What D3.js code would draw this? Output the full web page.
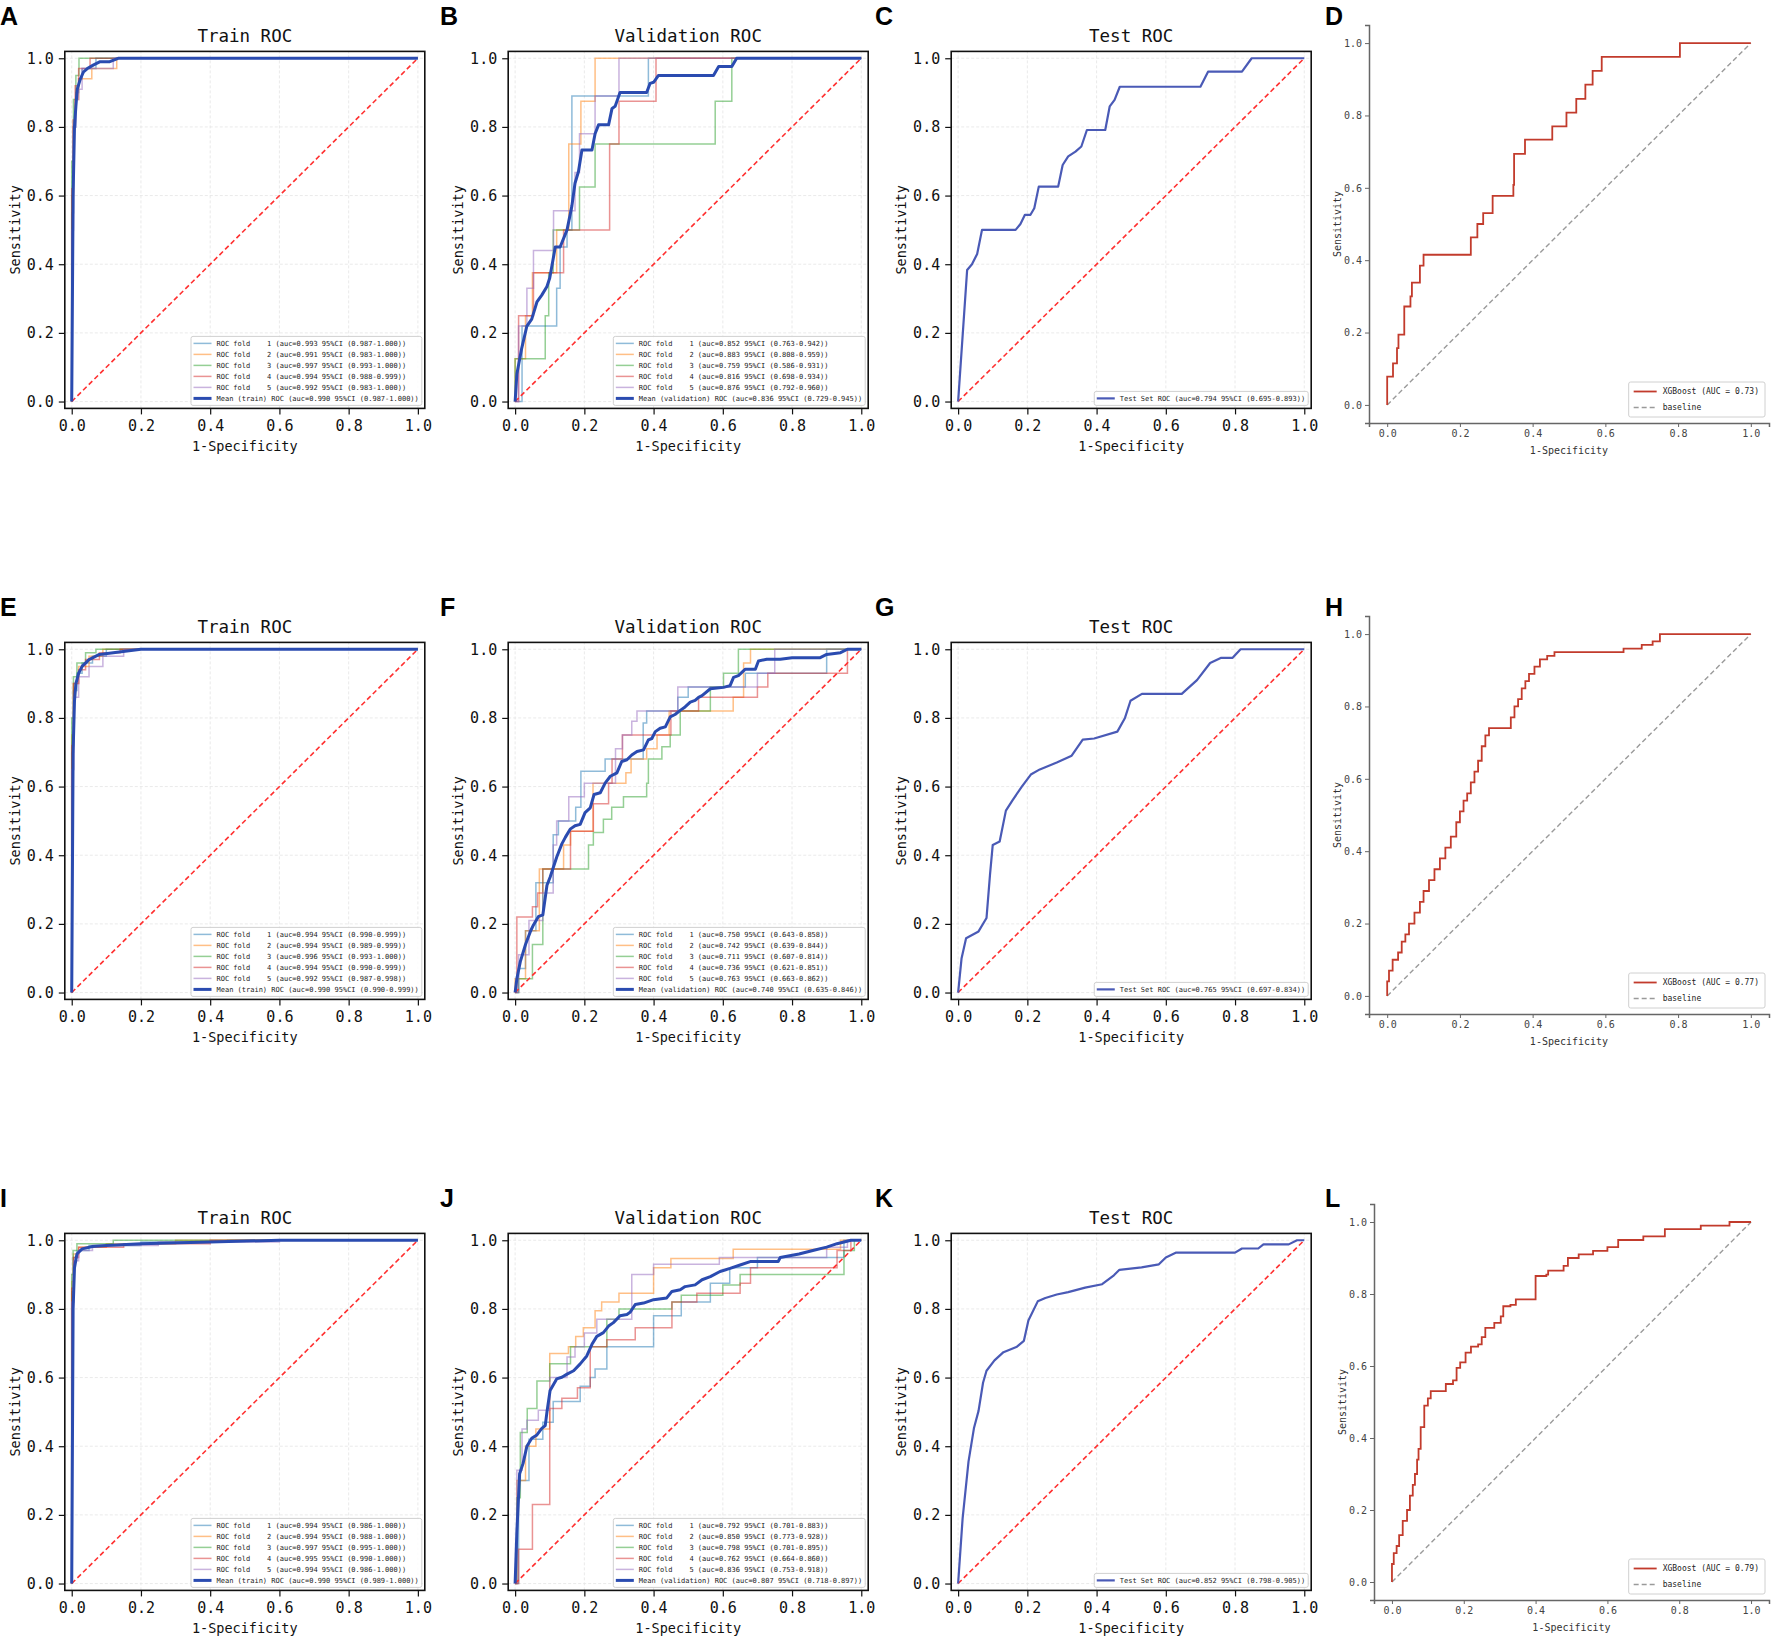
<!DOCTYPE html>
<html>
<head>
<meta charset="utf-8">
<script src="https://cdn.jsdelivr.net/npm/d3@7"></script>
<style>
  body { margin: 0; background: #fff; }
  text { font-family: "DejaVu Sans Mono", monospace; }
  .letter { font-family: "Liberation Sans", Arial, sans-serif; font-weight: bold; font-size: 25px; }
</style>
</head>
<body>
<div id="chart"></div>
<script>
const svgWidth = 1772, svgHeight = 1641;
const ticks = [0, 0.2, 0.4, 0.6, 0.8, 1.0];
const foldColors = ['#1f77b4', '#ff7f0e', '#2ca02c', '#d62728', '#9467bd'];
const rowOffsets = [0, 591, 1182];
const framedLefts = [64.8, 508.2, 951.2];

// ---------- row 1 ----------
const aFolds = [
  [[0,0],[0,0.55],[0.005,0.55],[0.005,0.8],[0.012,0.8],[0.012,0.9],[0.02,0.9],[0.02,0.94],[0.03,0.94],[0.03,0.97],[0.07,0.97],[0.07,1],[1,1]],
  [[0,0],[0,0.6],[0.005,0.6],[0.005,0.8],[0.01,0.8],[0.01,0.88],[0.02,0.88],[0.02,0.94],[0.058,0.94],[0.058,0.97],[0.13,0.97],[0.13,1],[1,1]],
  [[0,0],[0,0.7],[0.005,0.7],[0.005,0.88],[0.012,0.88],[0.012,0.95],[0.021,0.95],[0.021,1],[1,1]],
  [[0,0],[0,0.62],[0.004,0.62],[0.004,0.82],[0.01,0.82],[0.01,0.92],[0.02,0.92],[0.02,0.97],[0.053,0.97],[0.053,1],[1,1]],
  [[0,0],[0,0.5],[0.005,0.5],[0.005,0.8],[0.012,0.8],[0.012,0.88],[0.02,0.88],[0.02,0.91],[0.03,0.91],[0.03,0.97],[0.12,0.97],[0.12,1],[1,1]]
];
const aMean = [[0,0],[0.004,0.6],[0.008,0.8],[0.012,0.86],[0.016,0.91],[0.025,0.94],[0.034,0.96],[0.045,0.97],[0.062,0.98],[0.082,0.99],[0.11,0.99],[0.134,1],[1,1]];
const aLabels = [
  'ROC fold    1 (auc=0.993 95%CI (0.987-1.000))',
  'ROC fold    2 (auc=0.991 95%CI (0.983-1.000))',
  'ROC fold    3 (auc=0.997 95%CI (0.993-1.000))',
  'ROC fold    4 (auc=0.994 95%CI (0.988-0.999))',
  'ROC fold    5 (auc=0.992 95%CI (0.983-1.000))',
  'Mean (train) ROC (auc=0.990 95%CI (0.987-1.000))'
];

const bFolds = [
  [[0,0],[0.02,0],[0.02,0.22],[0.12,0.22],[0.12,0.33],[0.13,0.33],[0.13,0.45],[0.15,0.45],[0.15,0.5],[0.164,0.5],[0.164,0.89],[0.385,0.89],[0.385,1],[1,1]],
  [[0,0],[0,0.125],[0.03,0.125],[0.03,0.25],[0.05,0.25],[0.05,0.375],[0.12,0.375],[0.12,0.5],[0.155,0.5],[0.155,0.75],[0.19,0.75],[0.19,0.875],[0.231,0.875],[0.231,1],[1,1]],
  [[0,0],[0,0.125],[0.087,0.125],[0.087,0.25],[0.097,0.25],[0.097,0.375],[0.11,0.375],[0.11,0.5],[0.186,0.5],[0.186,0.625],[0.231,0.625],[0.231,0.75],[0.578,0.75],[0.578,0.875],[0.626,0.875],[0.626,1],[1,1]],
  [[0,0],[0.01,0],[0.01,0.25],[0.053,0.25],[0.053,0.375],[0.14,0.375],[0.14,0.5],[0.273,0.5],[0.273,0.75],[0.3,0.75],[0.3,0.875],[0.407,0.875],[0.407,1],[1,1]],
  [[0,0],[0.01,0],[0.01,0.22],[0.034,0.22],[0.034,0.33],[0.053,0.33],[0.053,0.44],[0.111,0.44],[0.111,0.556],[0.173,0.556],[0.173,0.667],[0.186,0.667],[0.186,0.78],[0.231,0.78],[0.231,0.89],[0.3,0.89],[0.3,1],[1,1]]
];
const bMean = [[0,0],[0.005,0.08],[0.019,0.155],[0.034,0.22],[0.048,0.24],[0.063,0.29],[0.077,0.31],[0.092,0.335],[0.10,0.36],[0.116,0.45],[0.13,0.45],[0.15,0.5],[0.164,0.57],[0.173,0.636],[0.183,0.67],[0.193,0.733],[0.222,0.733],[0.231,0.78],[0.241,0.806],[0.27,0.806],[0.28,0.854],[0.289,0.86],[0.303,0.9],[0.38,0.9],[0.39,0.927],[0.4,0.93],[0.414,0.95],[0.573,0.95],[0.588,0.976],[0.626,0.976],[0.64,1],[1,1]];
const bLabels = [
  'ROC fold    1 (auc=0.852 95%CI (0.763-0.942))',
  'ROC fold    2 (auc=0.883 95%CI (0.808-0.959))',
  'ROC fold    3 (auc=0.759 95%CI (0.586-0.931))',
  'ROC fold    4 (auc=0.816 95%CI (0.698-0.934))',
  'ROC fold    5 (auc=0.876 95%CI (0.792-0.960))',
  'Mean (validation) ROC (auc=0.836 95%CI (0.729-0.945))'
];

const cTest = [[0,0],[0.026,0.383],[0.04,0.40],[0.055,0.43],[0.069,0.50],[0.166,0.50],[0.18,0.517],[0.193,0.544],[0.209,0.544],[0.22,0.563],[0.233,0.626],[0.289,0.626],[0.302,0.689],[0.318,0.714],[0.339,0.728],[0.356,0.743],[0.372,0.791],[0.425,0.791],[0.438,0.86],[0.452,0.879],[0.467,0.917],[0.70,0.917],[0.722,0.961],[0.82,0.961],[0.848,1],[1,1]];
const cLabel = 'Test Set ROC (auc=0.794 95%CI (0.695-0.893))';

const dRoc = [[0,0],[0,0.078],[0.016,0.115],[0.027,0.157],[0.031,0.194],[0.047,0.272],[0.064,0.30],[0.068,0.338],[0.09,0.385],[0.10,0.415],[0.23,0.463],[0.248,0.50],[0.264,0.53],[0.29,0.578],[0.347,0.608],[0.349,0.694],[0.379,0.733],[0.454,0.77],[0.493,0.808],[0.52,0.846],[0.545,0.885],[0.565,0.923],[0.59,0.962],[0.805,1],[1,1]];
const dLabel = 'XGBoost (AUC = 0.73)';

// ---------- row 2 ----------
const eFolds = [
  [[0,0],[0,0.7],[0.005,0.7],[0.005,0.88],[0.015,0.88],[0.015,0.93],[0.03,0.93],[0.03,0.96],[0.06,0.96],[0.06,0.98],[0.1,0.98],[0.1,1],[1,1]],
  [[0,0],[0,0.75],[0.005,0.75],[0.005,0.9],[0.02,0.9],[0.02,0.95],[0.05,0.95],[0.05,0.98],[0.09,0.98],[0.09,1],[1,1]],
  [[0,0],[0,0.8],[0.005,0.8],[0.005,0.92],[0.015,0.92],[0.015,0.96],[0.04,0.96],[0.04,0.99],[0.07,0.99],[0.07,1],[1,1]],
  [[0,0],[0,0.72],[0.005,0.72],[0.005,0.9],[0.02,0.9],[0.02,0.94],[0.04,0.94],[0.04,0.97],[0.08,0.97],[0.08,0.99],[0.14,0.99],[0.14,1],[1,1]],
  [[0,0],[0,0.65],[0.006,0.65],[0.006,0.86],[0.02,0.86],[0.02,0.92],[0.05,0.92],[0.05,0.95],[0.09,0.95],[0.09,0.98],[0.15,0.98],[0.15,1],[1,1]]
];
const eMean = [[0,0],[0.004,0.7],[0.008,0.85],[0.012,0.9],[0.02,0.93],[0.03,0.95],[0.05,0.97],[0.08,0.985],[0.12,0.99],[0.2,1],[1,1]];
const eLabels = [
  'ROC fold    1 (auc=0.994 95%CI (0.990-0.999))',
  'ROC fold    2 (auc=0.994 95%CI (0.989-0.999))',
  'ROC fold    3 (auc=0.996 95%CI (0.993-1.000))',
  'ROC fold    4 (auc=0.994 95%CI (0.990-0.999))',
  'ROC fold    5 (auc=0.992 95%CI (0.987-0.998))',
  'Mean (train) ROC (auc=0.990 95%CI (0.990-0.999))'
];

const fFolds = [
  [[0,0],[0.01,0],[0.01,0.07],[0.03,0.07],[0.03,0.18],[0.06,0.18],[0.06,0.32],[0.11,0.32],[0.11,0.46],[0.125,0.46],[0.125,0.5],[0.175,0.5],[0.175,0.54],[0.19,0.54],[0.19,0.645],[0.26,0.645],[0.26,0.68],[0.37,0.68],[0.37,0.785],[0.38,0.785],[0.38,0.82],[0.47,0.82],[0.47,0.86],[0.5,0.86],[0.5,0.89],[0.665,0.89],[0.665,0.93],[0.9,0.93],[0.9,1],[1,1]],
  [[0,0],[0,0.04],[0.03,0.04],[0.03,0.18],[0.07,0.18],[0.07,0.36],[0.14,0.36],[0.14,0.43],[0.16,0.43],[0.16,0.47],[0.225,0.47],[0.225,0.61],[0.32,0.61],[0.32,0.64],[0.335,0.64],[0.335,0.68],[0.38,0.68],[0.38,0.71],[0.41,0.71],[0.41,0.75],[0.445,0.75],[0.445,0.82],[0.63,0.82],[0.63,0.86],[0.66,0.86],[0.66,0.96],[0.68,0.96],[0.68,1],[1,1]],
  [[0,0],[0.01,0],[0.01,0.04],[0.05,0.04],[0.05,0.14],[0.08,0.14],[0.08,0.36],[0.212,0.36],[0.212,0.43],[0.226,0.43],[0.226,0.466],[0.255,0.466],[0.255,0.505],[0.279,0.505],[0.279,0.54],[0.313,0.54],[0.313,0.57],[0.38,0.57],[0.38,0.61],[0.385,0.61],[0.385,0.68],[0.424,0.68],[0.424,0.716],[0.448,0.716],[0.448,0.75],[0.477,0.75],[0.477,0.82],[0.564,0.82],[0.564,0.89],[0.602,0.89],[0.602,0.93],[0.645,0.93],[0.645,1],[1,1]],
  [[0,0],[0.005,0],[0.005,0.22],[0.05,0.22],[0.05,0.25],[0.065,0.25],[0.065,0.29],[0.08,0.29],[0.08,0.36],[0.16,0.36],[0.16,0.47],[0.226,0.47],[0.226,0.55],[0.27,0.55],[0.27,0.61],[0.28,0.61],[0.28,0.68],[0.31,0.68],[0.31,0.75],[0.45,0.75],[0.45,0.82],[0.53,0.82],[0.53,0.86],[0.7,0.86],[0.7,0.89],[0.73,0.89],[0.73,0.93],[0.96,0.93],[0.96,1],[1,1]],
  [[0,0],[0.01,0],[0.01,0.11],[0.04,0.11],[0.04,0.21],[0.08,0.21],[0.08,0.29],[0.11,0.29],[0.11,0.43],[0.12,0.43],[0.12,0.5],[0.155,0.5],[0.155,0.57],[0.2,0.57],[0.2,0.61],[0.29,0.61],[0.29,0.71],[0.31,0.71],[0.31,0.75],[0.337,0.75],[0.337,0.79],[0.352,0.79],[0.352,0.82],[0.47,0.82],[0.47,0.89],[0.7,0.89],[0.7,0.93],[0.75,0.93],[0.75,1],[1,1]]
];
const fMean = [[0,0],[0.005,0.04],[0.015,0.09],[0.03,0.14],[0.045,0.18],[0.053,0.197],[0.067,0.221],[0.08,0.226],[0.092,0.3125],[0.101,0.336],[0.12,0.394],[0.135,0.433],[0.145,0.452],[0.159,0.476],[0.173,0.486],[0.188,0.49],[0.202,0.524],[0.217,0.538],[0.228,0.577],[0.246,0.582],[0.26,0.61],[0.275,0.63],[0.294,0.64],[0.308,0.673],[0.323,0.678],[0.337,0.692],[0.352,0.702],[0.371,0.707],[0.385,0.736],[0.395,0.74],[0.405,0.76],[0.419,0.77],[0.434,0.774],[0.448,0.803],[0.462,0.81],[0.477,0.822],[0.491,0.832],[0.506,0.846],[0.52,0.851],[0.53,0.86],[0.54,0.865],[0.564,0.885],[0.602,0.889],[0.621,0.894],[0.631,0.918],[0.645,0.923],[0.665,0.942],[0.694,0.942],[0.703,0.966],[0.727,0.971],[0.766,0.971],[0.8,0.975],[0.88,0.975],[0.9,0.985],[0.94,0.99],[0.96,1],[1,1]];
const fLabels = [
  'ROC fold    1 (auc=0.750 95%CI (0.643-0.858))',
  'ROC fold    2 (auc=0.742 95%CI (0.639-0.844))',
  'ROC fold    3 (auc=0.711 95%CI (0.607-0.814))',
  'ROC fold    4 (auc=0.736 95%CI (0.621-0.851))',
  'ROC fold    5 (auc=0.763 95%CI (0.663-0.862))',
  'Mean (validation) ROC (auc=0.740 95%CI (0.635-0.846))'
];

const gTest = [[0,0],[0.01,0.10],[0.023,0.158],[0.059,0.178],[0.082,0.217],[0.092,0.342],[0.1,0.43],[0.12,0.44],[0.138,0.53],[0.157,0.56],[0.184,0.6],[0.21,0.635],[0.236,0.65],[0.285,0.67],[0.328,0.69],[0.36,0.737],[0.393,0.74],[0.46,0.76],[0.482,0.80],[0.498,0.85],[0.531,0.87],[0.646,0.87],[0.69,0.91],[0.728,0.96],[0.76,0.975],[0.793,0.975],[0.816,1],[1,1]];
const gLabel = 'Test Set ROC (auc=0.765 95%CI (0.697-0.834))';

const hRoc = [[0,0],[0,0.04],[0.005,0.07],[0.015,0.1],[0.03,0.12],[0.04,0.15],[0.05,0.17],[0.06,0.2],[0.075,0.23],[0.09,0.26],[0.1,0.29],[0.115,0.32],[0.13,0.35],[0.145,0.38],[0.16,0.41],[0.175,0.44],[0.19,0.48],[0.2,0.51],[0.21,0.54],[0.22,0.56],[0.23,0.59],[0.24,0.62],[0.25,0.65],[0.26,0.69],[0.27,0.72],[0.28,0.74],[0.33,0.74],[0.34,0.77],[0.35,0.8],[0.36,0.82],[0.37,0.85],[0.38,0.87],[0.39,0.89],[0.405,0.91],[0.42,0.93],[0.44,0.94],[0.46,0.95],[0.63,0.95],[0.65,0.96],[0.7,0.97],[0.73,0.98],[0.75,1],[1,1]];
const hLabel = 'XGBoost (AUC = 0.77)';

// ---------- row 3 ----------
const iFolds = [
  [[0,0],[0,0.85],[0.005,0.85],[0.005,0.95],[0.015,0.95],[0.015,0.97],[0.05,0.97],[0.05,0.985],[0.2,0.985],[0.2,0.995],[0.45,0.995],[0.45,1],[1,1]],
  [[0,0],[0,0.88],[0.005,0.88],[0.005,0.96],[0.02,0.96],[0.02,0.98],[0.1,0.98],[0.1,0.99],[0.3,0.99],[0.3,1],[1,1]],
  [[0,0],[0,0.9],[0.004,0.9],[0.004,0.97],[0.015,0.97],[0.015,0.99],[0.12,0.99],[0.12,1],[1,1]],
  [[0,0],[0,0.86],[0.005,0.86],[0.005,0.95],[0.02,0.95],[0.02,0.98],[0.15,0.98],[0.15,0.99],[0.4,0.99],[0.4,1],[1,1]],
  [[0,0],[0,0.82],[0.006,0.82],[0.006,0.94],[0.02,0.94],[0.02,0.97],[0.06,0.97],[0.06,0.985],[0.25,0.985],[0.25,0.995],[0.6,0.995],[0.6,1],[1,1]]
];
const iMean = [[0,0],[0.004,0.8],[0.008,0.92],[0.015,0.96],[0.03,0.975],[0.06,0.982],[0.1,0.985],[0.2,0.99],[0.4,0.995],[0.6,1],[1,1]];
const iLabels = [
  'ROC fold    1 (auc=0.994 95%CI (0.986-1.000))',
  'ROC fold    2 (auc=0.994 95%CI (0.988-1.000))',
  'ROC fold    3 (auc=0.997 95%CI (0.995-1.000))',
  'ROC fold    4 (auc=0.995 95%CI (0.990-1.000))',
  'ROC fold    5 (auc=0.994 95%CI (0.986-1.000))',
  'Mean (train) ROC (auc=0.990 95%CI (0.989-1.000))'
];

const jFolds = [
  [[0,0],[0.01,0],[0.01,0.3],[0.04,0.3],[0.04,0.42],[0.08,0.42],[0.08,0.47],[0.11,0.47],[0.11,0.53],[0.188,0.53],[0.188,0.575],[0.217,0.575],[0.217,0.6],[0.231,0.6],[0.231,0.625],[0.265,0.625],[0.265,0.69],[0.4,0.69],[0.4,0.78],[0.48,0.78],[0.48,0.82],[0.564,0.82],[0.564,0.875],[0.62,0.875],[0.62,0.92],[0.7,0.92],[0.7,0.95],[0.95,0.95],[0.95,1],[1,1]],
  [[0,0],[0.005,0],[0.005,0.3],[0.03,0.3],[0.03,0.4],[0.06,0.4],[0.06,0.45],[0.1,0.45],[0.1,0.67],[0.154,0.67],[0.154,0.69],[0.175,0.69],[0.175,0.72],[0.197,0.72],[0.197,0.745],[0.231,0.745],[0.231,0.795],[0.25,0.795],[0.25,0.82],[0.3,0.82],[0.3,0.846],[0.4,0.846],[0.4,0.92],[0.45,0.92],[0.45,0.947],[0.63,0.947],[0.63,0.974],[0.94,0.974],[0.94,1],[1,1]],
  [[0,0],[0.005,0],[0.005,0.25],[0.015,0.25],[0.015,0.44],[0.035,0.44],[0.035,0.51],[0.063,0.51],[0.063,0.59],[0.1,0.59],[0.1,0.64],[0.16,0.64],[0.16,0.69],[0.265,0.69],[0.265,0.77],[0.3,0.77],[0.3,0.8],[0.453,0.8],[0.453,0.82],[0.48,0.82],[0.48,0.84],[0.6,0.84],[0.6,0.87],[0.65,0.87],[0.65,0.9],[0.95,0.9],[0.95,0.97],[0.98,0.97],[0.98,1],[1,1]],
  [[0,0],[0.01,0],[0.01,0.1],[0.05,0.1],[0.05,0.23],[0.1,0.23],[0.1,0.51],[0.135,0.51],[0.135,0.54],[0.18,0.54],[0.18,0.57],[0.217,0.57],[0.217,0.69],[0.265,0.69],[0.265,0.71],[0.347,0.71],[0.347,0.745],[0.453,0.745],[0.453,0.82],[0.525,0.82],[0.525,0.846],[0.65,0.846],[0.65,0.875],[0.68,0.875],[0.68,0.92],[0.93,0.92],[0.93,0.97],[0.97,0.97],[0.97,1],[1,1]],
  [[0,0],[0.005,0],[0.005,0.33],[0.02,0.33],[0.02,0.45],[0.034,0.45],[0.034,0.476],[0.067,0.476],[0.067,0.505],[0.1,0.505],[0.1,0.6],[0.15,0.6],[0.15,0.66],[0.173,0.66],[0.173,0.69],[0.2,0.69],[0.2,0.73],[0.236,0.73],[0.236,0.77],[0.337,0.77],[0.337,0.9],[0.4,0.9],[0.4,0.93],[0.59,0.93],[0.59,0.95],[0.9,0.95],[0.9,0.98],[0.96,0.98],[0.96,1],[1,1]]
];
const jMean = [[0,0],[0.005,0.15],[0.013,0.32],[0.023,0.35],[0.034,0.4],[0.048,0.423],[0.063,0.433],[0.077,0.452],[0.087,0.46],[0.092,0.5],[0.101,0.5625],[0.12,0.596],[0.135,0.601],[0.15,0.61],[0.169,0.62],[0.188,0.64],[0.207,0.663],[0.222,0.697],[0.236,0.72],[0.255,0.731],[0.27,0.75],[0.284,0.76],[0.303,0.78],[0.323,0.784],[0.332,0.79],[0.347,0.813],[0.371,0.817],[0.4,0.827],[0.438,0.832],[0.453,0.851],[0.477,0.856],[0.491,0.865],[0.52,0.87],[0.54,0.885],[0.564,0.894],[0.592,0.909],[0.621,0.918],[0.65,0.928],[0.679,0.938],[0.76,0.938],[0.766,0.95],[0.82,0.96],[0.86,0.97],[0.9,0.98],[0.93,0.99],[0.97,1],[1,1]];
const jLabels = [
  'ROC fold    1 (auc=0.792 95%CI (0.701-0.883))',
  'ROC fold    2 (auc=0.850 95%CI (0.773-0.928))',
  'ROC fold    3 (auc=0.798 95%CI (0.701-0.895))',
  'ROC fold    4 (auc=0.762 95%CI (0.664-0.860))',
  'ROC fold    5 (auc=0.836 95%CI (0.753-0.918))',
  'Mean (validation) ROC (auc=0.807 95%CI (0.718-0.897))'
];

const kTest = [[0,0],[0.013,0.19],[0.03,0.355],[0.046,0.454],[0.059,0.503],[0.072,0.585],[0.082,0.62],[0.105,0.65],[0.131,0.674],[0.17,0.69],[0.19,0.707],[0.203,0.766],[0.23,0.822],[0.252,0.832],[0.285,0.842],[0.318,0.849],[0.367,0.862],[0.416,0.872],[0.45,0.898],[0.466,0.914],[0.53,0.921],[0.58,0.93],[0.6,0.95],[0.63,0.964],[0.8,0.964],[0.82,0.976],[0.867,0.976],[0.882,0.988],[0.955,0.988],[0.979,1],[1,1]];
const kLabel = 'Test Set ROC (auc=0.852 95%CI (0.798-0.905))';

const lRoc = [[0,0],[0,0.05],[0.005,0.08],[0.013,0.1],[0.02,0.13],[0.03,0.17],[0.042,0.2],[0.05,0.24],[0.058,0.27],[0.064,0.3],[0.07,0.34],[0.074,0.37],[0.08,0.43],[0.09,0.49],[0.1,0.51],[0.108,0.53],[0.15,0.55],[0.17,0.56],[0.18,0.595],[0.19,0.61],[0.205,0.637],[0.22,0.654],[0.24,0.66],[0.25,0.68],[0.26,0.706],[0.285,0.72],[0.303,0.738],[0.31,0.766],[0.33,0.77],[0.345,0.785],[0.4,0.794],[0.4,0.85],[0.43,0.854],[0.435,0.865],[0.478,0.878],[0.49,0.9],[0.52,0.91],[0.56,0.92],[0.6,0.93],[0.63,0.95],[0.7,0.96],[0.76,0.98],[0.86,0.99],[0.94,1],[1,1]];
const lLabel = 'XGBoost (AUC = 0.79)';

const framedPanels = [
  { letter: 'A', row: 0, col: 0, title: 'Train ROC', folds: aFolds, main: aMean, labels: aLabels },
  { letter: 'B', row: 0, col: 1, title: 'Validation ROC', folds: bFolds, main: bMean, labels: bLabels },
  { letter: 'C', row: 0, col: 2, title: 'Test ROC', folds: [], main: cTest, labels: [cLabel] },
  { letter: 'E', row: 1, col: 0, title: 'Train ROC', folds: eFolds, main: eMean, labels: eLabels },
  { letter: 'F', row: 1, col: 1, title: 'Validation ROC', folds: fFolds, main: fMean, labels: fLabels },
  { letter: 'G', row: 1, col: 2, title: 'Test ROC', folds: [], main: gTest, labels: [gLabel] },
  { letter: 'I', row: 2, col: 0, title: 'Train ROC', folds: iFolds, main: iMean, labels: iLabels },
  { letter: 'J', row: 2, col: 1, title: 'Validation ROC', folds: jFolds, main: jMean, labels: jLabels },
  { letter: 'K', row: 2, col: 2, title: 'Test ROC', folds: [], main: kTest, labels: [kLabel] }
];
const plainPanels = [
  { letter: 'D', row: 0, left: 1369, right: 1769, top: 25, bottom: 423, roc: dRoc, label: dLabel },
  { letter: 'H', row: 1, left: 1369, right: 1769, top: 616, bottom: 1014, roc: hRoc, label: hLabel },
  { letter: 'L', row: 2, left: 1374, right: 1769, top: 1204, bottom: 1600, roc: lRoc, label: lLabel }
];
const letterX = [0, 440, 875, 1325];

const svg = d3.select('#chart')
  .append('svg')
  .attr('width', svgWidth)
  .attr('height', svgHeight)
  .style('background', '#fff');

function drawLegend(g, items, right, bottom, o) {
  const lg = g.append('g');
  const box = lg.append('rect');
  const row = lg.selectAll('g.row')
    .data(items)
    .enter()
    .append('g')
    .attr('class', 'row')
    .attr('transform', (d, i) => `translate(0, ${i * o.rowH})`);
  row.append('line')
    .attr('x1', 0).attr('x2', o.lineLen)
    .attr('stroke', d => d.color)
    .attr('stroke-width', d => d.width)
    .attr('stroke-opacity', d => d.opacity)
    .attr('stroke-dasharray', d => d.dash || null);
  row.append('text')
    .attr('x', o.lineLen + o.gap)
    .attr('dy', '0.35em')
    .attr('font-size', o.fs)
    .attr('fill', '#222')
    .style('white-space', 'pre')
    .text(d => d.label);
  const maxW = d3.max(row.selectAll('text').nodes(), n => n.getComputedTextLength());
  const w = o.padL + o.lineLen + o.gap + maxW + o.padR;
  const h = items.length * o.rowH + o.padV * 2;
  box.attr('x', -o.padL).attr('y', -o.rowH / 2 - o.padV)
    .attr('width', w).attr('height', h)
    .attr('rx', 2)
    .attr('fill', '#fff').attr('fill-opacity', 0.85)
    .attr('stroke', '#d0d0d0').attr('stroke-width', 1);
  lg.attr('transform', `translate(${right - w + o.padL}, ${bottom - h + o.rowH / 2 + o.padV})`);
}

function drawFramed(p) {
  const left = framedLefts[p.col];
  const top = 51.4 + rowOffsets[p.row];
  const x = d3.scaleLinear().domain([-0.02, 1.02]).range([left, left + 360]);
  const y = d3.scaleLinear().domain([-0.02, 1.02]).range([top + 357, top]);
  const g = svg.append('g');
  const line = d3.line().x(d => x(d[0])).y(d => y(d[1]));

  // grid
  g.selectAll('line.vg').data(ticks).enter().append('line')
    .attr('x1', d => x(d)).attr('x2', d => x(d))
    .attr('y1', y(-0.02)).attr('y2', y(1.02))
    .attr('stroke', '#e4e4e4').attr('stroke-width', 0.8).attr('stroke-dasharray', '3,2');
  g.selectAll('line.hg').data(ticks).enter().append('line')
    .attr('y1', d => y(d)).attr('y2', d => y(d))
    .attr('x1', x(-0.02)).attr('x2', x(1.02))
    .attr('stroke', '#e4e4e4').attr('stroke-width', 0.8).attr('stroke-dasharray', '3,2');

  p.folds.forEach((f, i) => {
    g.append('path').datum(f)
      .attr('d', line)
      .attr('fill', 'none')
      .attr('stroke', foldColors[i])
      .attr('stroke-opacity', 0.5)
      .attr('stroke-width', 1.5);
  });

  // chance line
  g.append('path').datum([[0, 0], [1, 1]])
    .attr('d', line)
    .attr('fill', 'none')
    .attr('stroke', '#ff3030')
    .attr('stroke-width', 1.6)
    .attr('stroke-dasharray', '5,3');

  const isMean = p.folds.length > 0;
  const mainColor = isMean ? '#2a4bb0' : '#4a5ab6';
  const mainWidth = isMean ? 3 : 2.2;
  g.append('path').datum(p.main)
    .attr('d', line)
    .attr('fill', 'none')
    .attr('stroke', mainColor)
    .attr('stroke-width', mainWidth)
    .attr('stroke-linejoin', 'round');

  g.append('rect')
    .attr('x', left).attr('y', top)
    .attr('width', 360).attr('height', 357)
    .attr('fill', 'none').attr('stroke', '#111').attr('stroke-width', 1.6);

  const yAxis = g.append('g')
    .attr('transform', `translate(${left},0)`)
    .call(d3.axisLeft(y).tickValues(ticks).tickFormat(d3.format('.1f')).tickSize(6).tickPadding(5));
  const xAxis = g.append('g')
    .attr('transform', `translate(0,${top + 357})`)
    .call(d3.axisBottom(x).tickValues(ticks).tickFormat(d3.format('.1f')).tickSize(6).tickPadding(6));
  [yAxis, xAxis].forEach(ax => {
    ax.select('.domain').remove();
    ax.selectAll('line').attr('stroke', '#111').attr('stroke-width', 1.2);
    ax.selectAll('text').attr('font-size', 15).attr('fill', '#111')
      .style('font-family', '"DejaVu Sans Mono", monospace');
  });

  g.append('text')
    .attr('x', left + 180).attr('y', top - 9.5)
    .attr('text-anchor', 'middle')
    .attr('font-size', 17.5).attr('fill', '#111')
    .text(p.title);
  g.append('text')
    .attr('x', left + 180).attr('y', top + 357 + 43)
    .attr('text-anchor', 'middle')
    .attr('font-size', 13.5).attr('fill', '#111')
    .text('1-Specificity');
  g.append('text')
    .attr('transform', `translate(${left - 45},${top + 178.5}) rotate(-90)`)
    .attr('text-anchor', 'middle')
    .attr('font-size', 13.5).attr('fill', '#111')
    .text('Sensitivity');

  const items = p.labels.map((label, i) => {
    if (isMean && i < p.folds.length) return { label, color: foldColors[i], width: 1.5, opacity: 0.5 };
    return { label, color: mainColor, width: mainWidth, opacity: 1 };
  });
  drawLegend(g, items, left + 357, top + 354, { rowH: 11, lineLen: 18, gap: 5, fs: 7, padL: 2.5, padR: 3, padV: 1.5 });

  g.append('text').attr('class', 'letter')
    .attr('x', letterX[p.col]).attr('y', 25 + rowOffsets[p.row])
    .text(p.letter);
}

function drawPlain(p) {
  const x = d3.scaleLinear().domain([-0.05, 1.05]).range([p.left, p.right]);
  const y = d3.scaleLinear().domain([-0.05, 1.05]).range([p.bottom, p.top]);
  const g = svg.append('g');
  const line = d3.line().x(d => x(d[0])).y(d => y(d[1]));

  g.append('path').datum([[0, 0], [1, 1]])
    .attr('d', line)
    .attr('fill', 'none')
    .attr('stroke', '#9a9a9a')
    .attr('stroke-width', 1.4)
    .attr('stroke-dasharray', '5,3');
  g.append('path').datum(p.roc)
    .attr('d', line.curve(d3.curveStepAfter))
    .attr('fill', 'none')
    .attr('stroke', '#c23b2c')
    .attr('stroke-width', 1.8);

  const yAxis = g.append('g')
    .attr('transform', `translate(${p.left},0)`)
    .call(d3.axisLeft(y).tickValues(ticks).tickFormat(d3.format('.1f')).tickSize(4).tickPadding(3));
  const xAxis = g.append('g')
    .attr('transform', `translate(0,${p.bottom})`)
    .call(d3.axisBottom(x).tickValues(ticks).tickFormat(d3.format('.1f')).tickSize(4).tickPadding(3));
  [yAxis, xAxis].forEach(ax => {
    ax.select('.domain').attr('stroke', '#666').attr('stroke-width', 1.5);
    ax.selectAll('line').attr('stroke', '#666').attr('stroke-width', 1);
    ax.selectAll('text').attr('font-size', 10).attr('fill', '#444')
      .style('font-family', '"DejaVu Sans Mono", monospace');
  });

  const midX = (x(0) + x(1)) / 2;
  g.append('text')
    .attr('x', midX).attr('y', p.bottom + 31)
    .attr('text-anchor', 'middle')
    .attr('font-size', 10).attr('fill', '#333')
    .text('1-Specificity');
  g.append('text')
    .attr('transform', `translate(${p.left - 28},${(y(0) + y(1)) / 2}) rotate(-90)`)
    .attr('text-anchor', 'middle')
    .attr('font-size', 10).attr('fill', '#333')
    .text('Sensitivity');

  const items = [
    { label: p.label, color: '#c23b2c', width: 1.8, opacity: 1 },
    { label: 'baseline', color: '#9a9a9a', width: 1.4, opacity: 1, dash: '5,3' }
  ];
  drawLegend(g, items, p.right - 4, p.bottom - 6, { rowH: 16, lineLen: 23, gap: 6, fs: 8, padL: 5, padR: 6, padV: 1.5 });

  g.append('text').attr('class', 'letter')
    .attr('x', letterX[3]).attr('y', 25 + rowOffsets[p.row])
    .text(p.letter);
}

framedPanels.forEach(drawFramed);
plainPanels.forEach(drawPlain);
</script>
</body>
</html>
